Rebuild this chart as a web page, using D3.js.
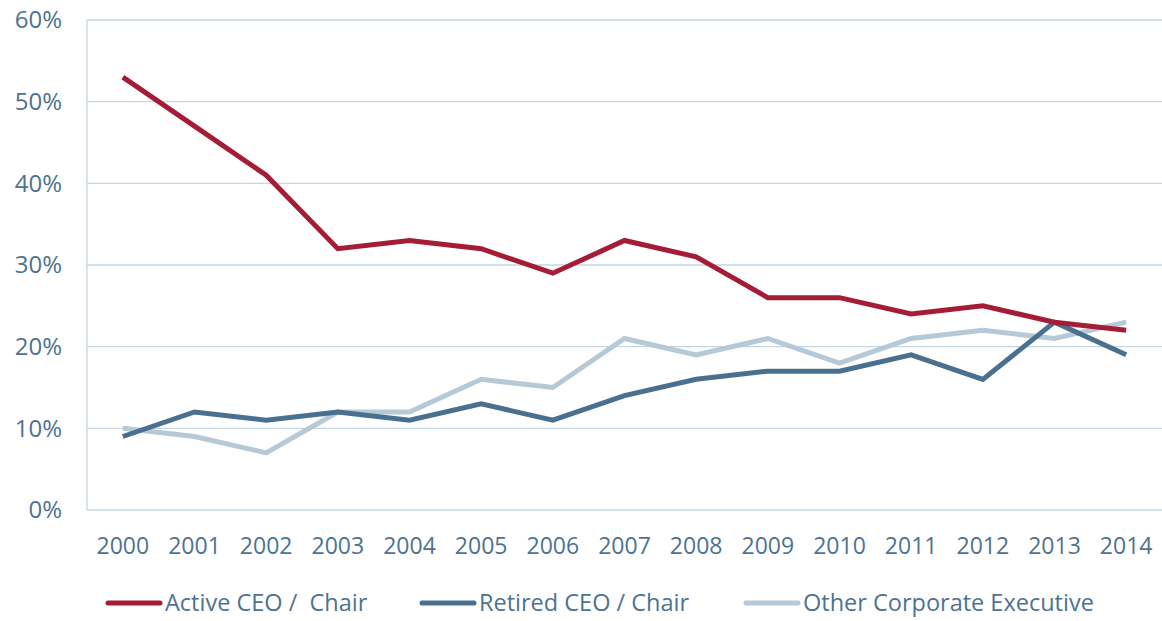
<!DOCTYPE html>
<html><head><meta charset="utf-8">
<script src="https://cdn.jsdelivr.net/npm/d3@7"></script>
<style>body{margin:0;background:#fff}svg{display:block}text{font-family:"Open Sans","Noto Sans",sans-serif;fill:#4d7391}</style>
</head><body>
<svg id="c" width="1162" height="621"></svg>
<script>
const years = ["2000","2001","2002","2003","2004","2005","2006","2007","2008","2009","2010","2011","2012","2013","2014"];
const activeCEO = [53,47,41,32,33,32,29,33,31,26,26,24,25,23,22];
const retiredCEO = [9,12,11,12,11,13,11,14,16,17,17,19,16,23,19];
const otherExec = [10,9,7,12,12,16,15,21,19,21,18,21,22,21,23];
const yTicks = [0,10,20,30,40,50,60];
const seriesNames = ["Active CEO /  Chair","Retired CEO / Chair","Other Corporate Executive"];
const colors = ["#a51c36","#4a7090","#b5c9d7"];

const svg = d3.select("#c");
const L=87,R=1162,T=20,B=510;
const x = d3.scaleBand().domain(years).range([L,R]);
const y = d3.scaleLinear().domain([0,60]).range([B,T]);

svg.append("g").selectAll("line").data(yTicks).join("line")
 .attr("x1",L).attr("x2",R).attr("y1",d=>y(d)).attr("y2",d=>y(d))
 .attr("stroke","#c5d5e2").attr("stroke-width",1.3);
svg.append("line").attr("x1",L).attr("x2",L).attr("y1",T).attr("y2",B).attr("stroke","#c5d5e2").attr("stroke-width",1.3);

svg.append("g").selectAll("text").data(yTicks).join("text")
 .attr("x",62).attr("y",d=>y(d)).attr("dy","0.35em").attr("text-anchor","end")
 .attr("font-size",24).text(d=>d+"%");
svg.append("g").selectAll("text").data(years).join("text")
 .attr("x",d=>x(d)+x.bandwidth()/2).attr("y",546).attr("dy","0.35em").attr("text-anchor","middle")
 .attr("font-size",23).text(d=>d);

const data=[activeCEO,retiredCEO,otherExec];
const line=d3.line().x((d,i)=>x(years[i])+x.bandwidth()/2).y(d=>y(d));
[2,1,0].forEach(k=>{
 svg.append("path").datum(data[k]).attr("d",line).attr("fill","none")
  .attr("stroke",colors[k]).attr("stroke-width",5).attr("stroke-linejoin","miter");
});

const lg=[{x:108},{x:422},{x:746}];
lg.forEach((p,i)=>{
 svg.append("line").attr("x1",p.x).attr("x2",p.x+52).attr("y1",603).attr("y2",603)
  .attr("stroke",colors[i]).attr("stroke-width",5).attr("stroke-linecap","round");
 svg.append("text").attr("x",p.x+57).attr("y",603).attr("dy","0.35em").attr("font-size",23.5)
  .attr("xml:space","preserve").style("white-space","pre").text(seriesNames[i]);
});
</script>
</body></html>
